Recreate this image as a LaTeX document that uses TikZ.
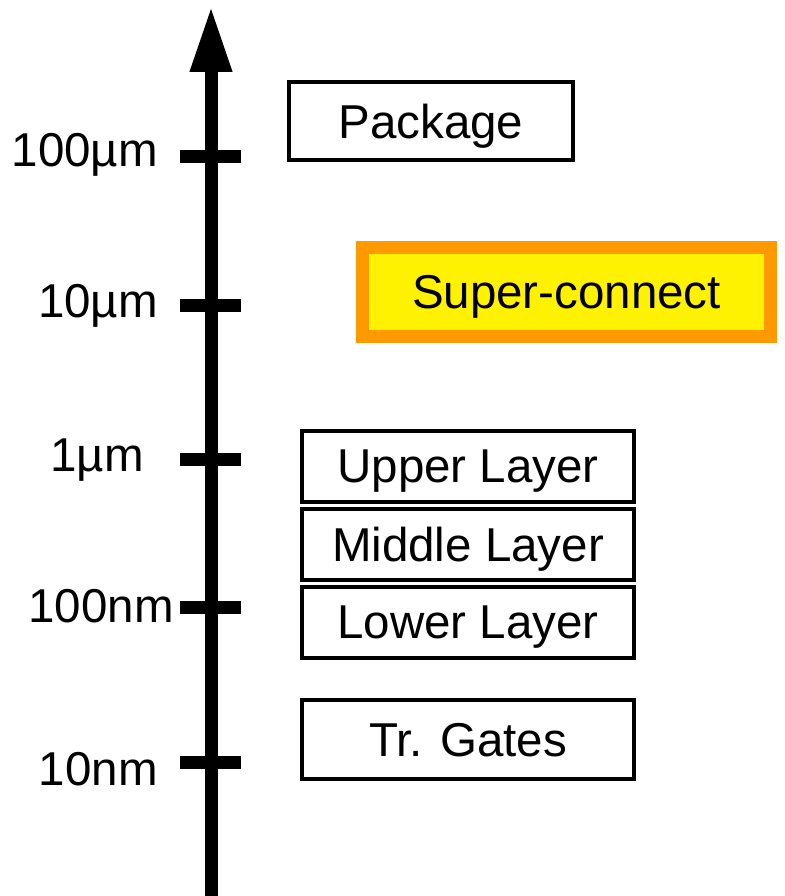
\documentclass[tikz,border=0pt]{standalone}
\usepackage{fontspec}
\setmainfont{Liberation Sans}
\usetikzlibrary{arrows.meta,positioning}
\definecolor{superedge}{RGB}{255,153,0}

\tikzset{
  scalebox/.style={draw, line width=4pt, inner sep=0pt, minimum width=332pt, minimum height=71pt},
  bigtext/.style={font=\fontsize{47.5}{50}\selectfont, text depth=0pt}
}

\begin{document}
\begin{tikzpicture}[x=1pt,y=-1pt,bigtext]
\useasboundingbox (0,0) rectangle (784,896);
\draw[line width=13pt,-{Triangle[width=39pt,length=66pt]}] (211,896) -- (211,6); % the size axis
\foreach \y/\ly/\xr/\lab/\name in {157/150/158/100µm/t100um, 305/301/158/10µm/t10um, 459/455/144/1µm/t1um, 607/606/174/100nm/t100nm, 762/769/158/10nm/t10nm} % ticks and their labels
{
\draw[line width=13pt] (180,\y) -- (241,\y);
\node[anchor=east, inner sep=0pt] (\name) at (\xr,\ly) {\lab};
}
\node[scalebox, minimum width=284pt, minimum height=78pt] (pkg) at (431,121) {Package};
\node[draw=superedge, fill=yellow, line width=13pt, inner sep=0pt, minimum width=408pt, minimum height=89pt] (super) at (566.5,292) {Super-connect};
\node[scalebox] (upper) at (468,466.5) {Upper Layer};
\node[scalebox, below=3pt of upper] (middle) {Middle Layer};
\node[scalebox, below=3pt of middle] (lower) {Lower Layer};
\node[scalebox, minimum height=79pt, below=38pt of lower] (gates) {Tr. Gates};
\end{tikzpicture}
\end{document}
